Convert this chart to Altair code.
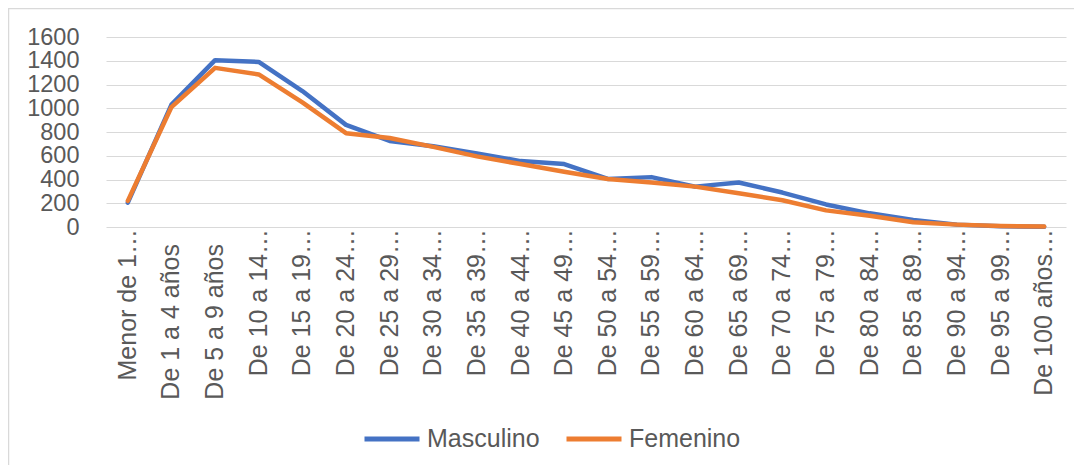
import altair as alt
import pandas as pd

grupos = ["Menor de 1…", "De 1 a 4 años", "De 5 a 9 años", "De 10 a 14…", "De 15 a 19…",
          "De 20 a 24…", "De 25 a 29…", "De 30 a 34…", "De 35 a 39…", "De 40 a 44…",
          "De 45 a 49…", "De 50 a 54…", "De 55 a 59…", "De 60 a 64…", "De 65 a 69…",
          "De 70 a 74…", "De 75 a 79…", "De 80 a 84…", "De 85 a 89…", "De 90 a 94…",
          "De 95 a 99…", "De 100 años…"]
masculino = [205, 1030, 1405, 1390, 1145, 860, 725, 680, 620, 555, 530, 405, 420, 340, 375,
             290, 190, 115, 60, 20, 6, 3]
femenino = [220, 1010, 1340, 1285, 1050, 790, 750, 675, 595, 530, 465, 405, 375, 340, 285,
            225, 140, 95, 40, 20, 8, 4]
series = ["Masculino", "Femenino"]
colores = ["#4472C4", "#ED7D31"]
y_ticks = [0, 200, 400, 600, 800, 1000, 1200, 1400, 1600]

FONT = "Liberation Sans"
GRAY = "#595959"

rows = []
for s, vals in zip(series, [masculino, femenino]):
    for g, v in zip(grupos, vals):
        rows.append({"grupo": g, "serie": s, "valor": v})
df = pd.DataFrame(rows)
labels_df = pd.DataFrame({"grupo": grupos})

xscale = alt.Scale(type="point", padding=0.5, domain=grupos)
xenc = alt.X("grupo:N", sort=grupos, scale=xscale, axis=None)

lines = alt.Chart(df).mark_line(strokeWidth=4.5, strokeCap="round", strokeJoin="round").encode(
    x=xenc,
    y=alt.Y("valor:Q", scale=alt.Scale(domain=[0, 1600], nice=False),
            axis=alt.Axis(values=y_ticks, format="d", labelOverlap=False, title=None,
                          domain=False, ticks=False,
                          labelFont=FONT, labelFontSize=23.5, labelColor=GRAY,
                          labelPadding=27, gridColor="#D9D9D9", gridWidth=1)),
    color=alt.Color("serie:N", sort=series,
                    scale=alt.Scale(domain=series, range=colores),
                    legend=alt.Legend(title=None, orient="none", direction="horizontal",
                                      legendX=256, legendY=372, symbolType="stroke",
                                      symbolSize=3025, symbolStrokeWidth=5,
                                      labelFont=FONT, labelFontSize=25, labelColor=GRAY,
                                      labelOffset=5, columnPadding=16, padding=0)),
    order=alt.Order("serie_order:Q"),
).transform_calculate(serie_order="datum.serie === 'Masculino' ? 0 : 1")

text_props = dict(angle=270, align="right", baseline="middle", font=FONT, fontSize=25, color=GRAY)

lab_trunc = alt.Chart(labels_df).transform_filter(
    "indexof(datum.grupo, '…') >= 0"
).mark_text(**text_props).encode(x=xenc, y=alt.value(192), text="grupo:N")

lab_full = alt.Chart(labels_df).transform_filter(
    "indexof(datum.grupo, '…') < 0"
).mark_text(**text_props).encode(x=xenc, y=alt.value(207), text="grupo:N")

border = alt.Chart(labels_df.head(1)).mark_rect(
    fill=None, stroke="#D9D9D9", strokeWidth=1.5
).encode(x=alt.value(-97.5), x2=alt.value(1100), y=alt.value(-28.5), y2=alt.value(600))

chart = alt.layer(border, lines, lab_trunc, lab_full).properties(
    width=960, height=190,
    autosize=alt.AutoSizeParams(type="none"),
    padding={"left": 98, "top": 29, "right": 8, "bottom": 238},
    background="white",
).configure_view(stroke=None)

chart.save("out.html", embed_options={"renderer": "svg", "actions": False})
